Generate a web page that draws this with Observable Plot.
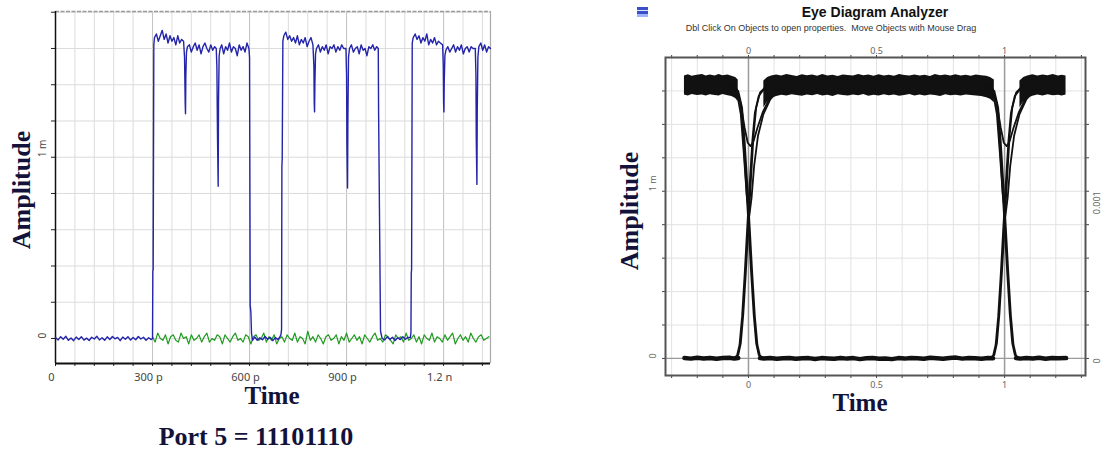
<!DOCTYPE html>
<html><head><meta charset="utf-8">
<script src="https://cdn.jsdelivr.net/npm/d3@7"></script>
<script src="https://cdn.jsdelivr.net/npm/@observablehq/plot@0.6"></script>
<style>
body{margin:0;background:#fff;width:1105px;height:452px;overflow:hidden;position:relative;font-family:Arial,"Liberation Sans",sans-serif;}
.abs{position:absolute;}
.serif{font-family:"Liberation Serif","Times New Roman",serif;font-weight:bold;color:#12123a;line-height:1;white-space:nowrap;text-align:center;}
.rot{transform:rotate(-90deg);}
</style></head><body>
<div id="left" class="abs" style="left:0;top:0"></div>
<div id="right" class="abs" style="left:600px;top:0"></div>
<div class="abs serif rot" style="left:-78px;top:177px;width:200px;font-size:26px;">Amplitude</div>
<div class="abs serif" style="left:172px;top:383px;width:200px;font-size:25px;">Time</div>
<div class="abs serif" style="left:106px;top:424px;width:300px;font-size:26px;">Port 5 = 11101110</div>
<div class="abs serif rot" style="left:530px;top:198px;width:200px;font-size:26px;">Amplitude</div>
<div class="abs serif" style="left:760px;top:390px;width:200px;font-size:25px;">Time</div>
<div class="abs" style="left:637px;top:7px;width:11px;height:10px;background:linear-gradient(#3a4fc8 0 30%,#dfe6ff 30% 45%,#3a4fc8 45% 70%,#9fb4ff 70%);"></div>
<div class="abs" style="left:725px;top:5px;width:300px;text-align:center;font-weight:bold;font-size:14px;color:#111;line-height:1;">Eye Diagram Analyzer</div>
<div class="abs" style="left:631px;top:24px;width:400px;text-align:center;font-size:9px;color:#333;line-height:1;white-space:pre;">Dbl Click On Objects to open properties.  Move Objects with Mouse Drag</div>
<script>
// ---------- Left chart: time trace ----------
const leftXDomain = [0, 1345];
const leftYDomain = [-0.138, 1.804];
const leftXTicks = [0, 300, 600, 900, 1200];
const leftXLabels = ["0", "300 p", "600 p", "900 p", "1.2 n"];
const leftYTicks = [0, 1];
const leftYLabels = ["0", "1 m"];
const leftGridX = [0,60,120,180,240,300,360,420,480,540,600,660,720,780,840,900,960,1020,1080,1140,1200,1260,1320];
const leftGridY = [0,0.2,0.4,0.6,0.8,1.0,1.2,1.4,1.6,1.8];

// blue trace (time in ps, amplitude in mV)
const blueTrace = [
[0,0.005],[8,-0.008],[16,0.01],[24,-0.004],[32,0.012],[40,-0.01],[48,0.003],[56,-0.012],[64,0.008],[72,-0.005],
[80,0.01],[88,-0.009],[96,0.002],[104,-0.011],[112,0.007],[120,-0.003],[128,0.012],[136,-0.008],[144,0.004],[152,-0.01],
[160,0.009],[168,-0.006],[176,0.011],[184,-0.002],[192,0.006],[200,-0.012],[208,0.008],[216,-0.004],[224,0.01],[232,-0.009],
[240,0.005],[248,-0.007],[256,0.011],[264,-0.003],[272,0.007],[280,-0.01],[288,0.004],[296,-0.006],
[300,0.0],[301,0.37],[302,0.38],[304,1.62],[306,1.66],
[312,1.68],[318,1.64],[324,1.67],[330,1.70],[336,1.65],[342,1.68],[348,1.63],[354,1.67],[360,1.64],[366,1.66],
[372,1.62],[378,1.67],[384,1.63],[390,1.65],[396,1.64],
[399,1.55],[401,1.30],[402,1.24],[403,1.45],[405,1.58],[408,1.61],
[414,1.62],[420,1.58],[426,1.61],[432,1.63],[438,1.59],[444,1.62],[450,1.57],[456,1.61],[462,1.63],[468,1.60],
[474,1.58],[480,1.62],[486,1.59],[492,1.61],[497,1.60],
[499,1.50],[501,1.10],[503,0.84],[504,1.30],[506,1.56],[509,1.60],
[514,1.62],[520,1.57],[526,1.61],[532,1.59],[538,1.63],[544,1.58],[550,1.61],[556,1.60],[562,1.56],[568,1.62],
[574,1.59],[580,1.61],[586,1.58],[592,1.63],[598,1.60],
[600,1.55],[601,0.9],[602,0.18],[604,0.15],[606,0.03],[609,-0.01],
[616,0.008],[624,-0.01],[632,0.004],[640,-0.007],[648,0.011],[656,-0.004],[664,0.006],[672,-0.012],[680,0.005],[688,-0.006],
[694,0.01],[697,0.02],
[699,0.05],[700,0.95],[701,0.99],[703,1.64],[706,1.67],
[712,1.69],[718,1.65],[724,1.67],[730,1.64],[736,1.66],[742,1.63],[748,1.67],[754,1.62],[760,1.65],[766,1.63],
[772,1.66],[778,1.61],[784,1.64],[790,1.66],[796,1.62],
[799,1.50],[800,1.30],[801,1.25],[802,1.40],[804,1.57],[807,1.60],
[813,1.62],[819,1.58],[825,1.61],[831,1.59],[837,1.62],[843,1.57],[849,1.61],[855,1.60],[861,1.62],[867,1.58],
[873,1.61],[879,1.59],[885,1.62],[891,1.60],[898,1.60],
[900,1.45],[901,1.08],[903,0.83],[904,1.20],[906,1.55],[909,1.60],
[915,1.62],[921,1.58],[927,1.60],[933,1.61],[939,1.57],[945,1.62],[951,1.59],[957,1.60],[963,1.56],[969,1.61],
[975,1.60],[981,1.62],[987,1.59],[993,1.61],[998,1.60],
[999,1.25],[1005,0.04],[1010,0.0],
[1018,-0.008],[1026,0.01],[1034,-0.005],[1042,0.007],[1050,-0.011],[1058,0.004],[1066,-0.006],[1074,0.009],[1082,-0.004],[1090,0.006],
[1097,0.005],
[1099,0.03],[1100,0.36],[1101,0.38],[1103,1.63],[1106,1.66],
[1112,1.68],[1118,1.65],[1124,1.67],[1130,1.63],[1136,1.66],[1142,1.64],[1148,1.68],[1154,1.62],[1160,1.65],[1166,1.63],
[1172,1.66],[1178,1.62],[1184,1.64],[1190,1.63],[1197,1.62],
[1199,1.50],[1200,1.30],[1201,1.25],[1202,1.42],[1204,1.56],[1207,1.59],
[1213,1.61],[1219,1.58],[1225,1.60],[1231,1.62],[1237,1.58],[1243,1.61],[1249,1.59],[1255,1.62],[1261,1.57],[1267,1.60],
[1273,1.61],[1279,1.58],[1285,1.61],[1291,1.60],[1298,1.60],
[1300,1.45],[1301,1.10],[1303,0.85],[1304,1.25],[1306,1.55],[1309,1.61],
[1315,1.63],[1321,1.59],[1327,1.62],[1333,1.58],[1339,1.61],[1345,1.60]
];

// green trace: samples every 8 ps starting at 300 ps
const greenStart = 300, greenStep = 8;
const greenValues = [
0.01,-0.02,0.03,0.00,-0.01,0.02,-0.03,0.01,0.02,-0.01,
-0.02,0.03,0.00,0.01,-0.03,0.02,-0.01,0.00,0.02,-0.02,
0.01,0.03,-0.02,0.00,-0.01,0.02,0.01,-0.03,0.02,0.00,
-0.02,0.01,0.03,-0.01,0.00,-0.02,0.02,0.01,-0.03,0.01,
0.02,-0.01,0.00,0.03,-0.02,0.01,-0.01,0.02,-0.03,0.00,
0.01,-0.02,0.02,0.00,-0.01,0.03,-0.02,0.01,0.00,-0.03,
0.04,-0.01,0.01,-0.02,0.02,0.00,-0.03,0.01,0.02,-0.01,
0.00,0.02,-0.03,0.01,-0.01,0.03,-0.02,0.00,0.02,-0.01,
0.01,-0.03,0.02,0.00,-0.02,0.01,0.03,-0.01,0.00,-0.02,
0.02,0.01,-0.01,-0.03,0.02,0.00,0.01,-0.02,0.03,-0.01,
0.00,0.02,-0.02,0.01,-0.03,0.02,0.00,-0.01,0.03,-0.02,
0.01,0.00,-0.02,0.02,-0.01,0.01,0.03,-0.03,0.00,0.02,
-0.01,0.01,-0.02,0.03,0.00,-0.02,0.01,0.02,-0.01,0.00,
0.01
];
const greenTrace = greenValues.map((v, i) => [greenStart + i * greenStep, v]);

// ---------- Right chart: eye diagram ----------
const eyeXDomain = [-0.324, 1.316];
const eyeYDomain = [-0.102, 1.80];
const eyeXTicks = [0, 0.5, 1];
const eyeXLabels = ["0", "0.5", "1"];
const eyeYTicksLeft = [0, 1];
const eyeYLabelsLeft = ["0", "1 m"];
const eyeYLabelsRight = ["0", "0.001"];
const eyeGridX = [-0.3,-0.2,-0.1,0,0.1,0.2,0.3,0.4,0.5,0.6,0.7,0.8,0.9,1.0,1.1,1.2,1.3];
const eyeGridY = [0,0.2,0.4,0.6,0.8,1.0,1.2,1.4,1.6];
const eyeCrossings = [0, 1];

// high (logic 1) band segments: x, top, bottom
const bandLeftX = [-0.25,-0.235,-0.22,-0.2,-0.18,-0.165,-0.15,-0.13,-0.115,-0.1,-0.08,-0.065,-0.05,-0.04];
const bandLeftTop = [1.690,1.697,1.688,1.694,1.699,1.689,1.695,1.690,1.698,1.691,1.695,1.688,1.680,1.665];
const bandLeftBot = [1.575,1.570,1.578,1.572,1.576,1.569,1.577,1.573,1.570,1.578,1.571,1.566,1.555,1.535];
const bandMidX = [0.06,0.075,0.09,0.11,0.13,0.15,0.17,0.19,0.21,0.23,0.25,0.27,0.29,0.31,0.33,0.35,0.37,0.39,0.41,0.43,0.45,0.47,0.49,0.51,0.53,0.55,0.57,0.59,0.61,0.63,0.65,0.67,0.69,0.71,0.73,0.75,0.77,0.79,0.81,0.83,0.85,0.87,0.89,0.91,0.93,0.945,0.96];
const bandMidTop = [1.660,1.680,1.690,1.696,1.689,1.698,1.692,1.687,1.697,1.691,1.695,1.688,1.699,1.690,1.694,1.687,1.696,1.692,1.689,1.698,1.691,1.695,1.688,1.697,1.690,1.694,1.688,1.699,1.692,1.689,1.696,1.690,1.694,1.687,1.698,1.691,1.695,1.689,1.697,1.690,1.694,1.688,1.696,1.691,1.688,1.680,1.665];
const bandMidBot = [1.500,1.535,1.555,1.566,1.574,1.569,1.577,1.572,1.568,1.576,1.571,1.578,1.570,1.574,1.567,1.577,1.572,1.569,1.576,1.571,1.578,1.568,1.574,1.570,1.577,1.571,1.575,1.568,1.573,1.578,1.570,1.575,1.569,1.576,1.572,1.567,1.577,1.571,1.574,1.569,1.576,1.572,1.570,1.566,1.560,1.550,1.530];
const bandRightX = [1.06,1.075,1.09,1.11,1.13,1.15,1.17,1.19,1.21,1.225,1.24];
const bandRightTop = [1.660,1.680,1.690,1.697,1.689,1.695,1.691,1.698,1.690,1.694,1.689];
const bandRightBot = [1.500,1.535,1.555,1.568,1.575,1.570,1.577,1.571,1.574,1.569,1.575];

// low (logic 0) trace segments
const lowLeftX = [-0.25,-0.225,-0.2,-0.175,-0.15,-0.125,-0.1,-0.075,-0.055,-0.04];
const lowLeftV = [0.003,-0.001,0.004,0.0,0.003,-0.002,0.002,0.004,-0.001,0.002];
const lowMidX = [0.045,0.06,0.085,0.11,0.135,0.16,0.185,0.21,0.235,0.26,0.285,0.31,0.335,0.36,0.385,0.41,0.435,0.46,0.485,0.51,0.535,0.56,0.585,0.61,0.635,0.66,0.685,0.71,0.735,0.76,0.785,0.81,0.835,0.86,0.885,0.91,0.935,0.955];
const lowMidV = [0.002,0.0,0.003,-0.002,0.001,0.003,-0.002,0.001,0.002,-0.003,0.002,0.0,-0.002,0.003,-0.001,0.002,-0.004,0.001,0.002,-0.002,0.0,-0.004,0.002,-0.001,0.003,0.001,-0.002,0.004,0.001,-0.002,0.003,0.005,-0.001,0.003,0.001,-0.002,0.003,0.001];
const lowRightX = [1.045,1.06,1.085,1.11,1.135,1.16,1.185,1.21,1.24];
const lowRightV = [0.002,-0.001,0.003,0.0,0.004,-0.002,0.003,0.001,0.002];

// transition traces around a crossing (x relative to crossing, amplitude mV)
const edgeFallA = [[-0.07,1.63],[-0.045,1.61],[-0.03,1.52],[-0.02,1.32],[-0.01,1.06],[0,0.80],[0.01,0.52],[0.02,0.27],[0.03,0.09],[0.04,0.02],[0.06,0.0]];
const edgeFallB = [[-0.07,1.63],[-0.04,1.60],[-0.025,1.50],[-0.015,1.30],[-0.005,1.05],[0.005,0.78],[0.015,0.50],[0.025,0.25],[0.035,0.08],[0.045,0.015],[0.065,0.0]];
const edgeRiseA = [[-0.06,0.0],[-0.04,0.02],[-0.03,0.09],[-0.02,0.27],[-0.01,0.52],[0,0.80],[0.01,1.08],[0.02,1.34],[0.03,1.50],[0.045,1.59],[0.07,1.63]];
const edgeRiseB = [[-0.065,0.0],[-0.045,0.015],[-0.035,0.08],[-0.025,0.25],[-0.015,0.50],[-0.005,0.78],[0.005,1.05],[0.015,1.30],[0.025,1.47],[0.04,1.57],[0.065,1.62]];
const edgeDipShallow = [[-0.07,1.63],[-0.045,1.60],[-0.03,1.52],[-0.015,1.38],[-0.003,1.29],[0.008,1.27],[0.02,1.30],[0.035,1.38],[0.055,1.47],[0.08,1.55],[0.11,1.60],[0.14,1.62]];
const edgeDipDeep = [[-0.07,1.63],[-0.045,1.59],[-0.03,1.46],[-0.018,1.22],[-0.007,0.98],[0.003,0.85],[0.012,0.96],[0.022,1.15],[0.037,1.33],[0.058,1.46],[0.085,1.55],[0.12,1.61]];

// ---------- build tables ----------
const blueData = blueTrace.map(([t, v]) => ({t, v}));
const greenData = greenTrace.map(([t, v]) => ({t, v}));

const bandData = [];
[[bandLeftX, bandLeftTop, bandLeftBot, "L"], [bandMidX, bandMidTop, bandMidBot, "M"], [bandRightX, bandRightTop, bandRightBot, "R"]]
  .forEach(([xs, tops, bots, seg]) => xs.forEach((x, i) => bandData.push({x, top: tops[i], bot: bots[i], seg})));
const lowData = [];
[[lowLeftX, lowLeftV, "L"], [lowMidX, lowMidV, "M"], [lowRightX, lowRightV, "R"]]
  .forEach(([xs, vs, seg]) => xs.forEach((x, i) => lowData.push({x, v: vs[i], seg})));
const edgeData = [];
const edgeSets = {edgeFallA, edgeFallB, edgeRiseA, edgeRiseB, edgeDipShallow, edgeDipDeep};
eyeCrossings.forEach(c => Object.entries(edgeSets).forEach(([name, pts]) =>
  pts.forEach(([dx, v]) => edgeData.push({x: c + dx, v, id: name + c}))));

// ---------- left plot ----------
const left = Plot.plot({
  width: 500, height: 390,
  marginLeft: 55, marginRight: 10, marginTop: 11, marginBottom: 27,
  x: {domain: leftXDomain, axis: null},
  y: {domain: leftYDomain, axis: null},
  style: {background: "white", overflow: "visible"},
  marks: [
    Plot.gridX(leftGridX, {stroke: "#dcdcdc", strokeOpacity: 1}),
    Plot.gridX(leftXTicks, {stroke: "#c4c4c4", strokeOpacity: 1}),
    Plot.gridY(leftGridY, {stroke: "#dcdcdc", strokeOpacity: 1}),
    Plot.ruleY([leftYDomain[1]], {stroke: "#9a9a9a", strokeDasharray: "4,1.5", strokeWidth: 1.5}),
    Plot.ruleX([leftXDomain[1]], {stroke: "#aaaaaa", strokeWidth: 1.2}),
    Plot.axisY({ticks: leftGridY, tickFormat: () => "", tickSize: 4, stroke: "#222", label: null}),
    Plot.axisX({ticks: leftGridX, tickFormat: () => "", tickSize: 3, stroke: "#222", label: null}),
    Plot.ruleX([leftXDomain[0]], {stroke: "#111", strokeWidth: 1.5}),
    Plot.ruleY([leftYDomain[0]], {stroke: "#111", strokeWidth: 2}),
    Plot.text(leftXTicks, {x: d => d, text: (d, i) => leftXLabels[i], frameAnchor: "bottom", dy: 17, dx: -4, fontSize: 11, fill: "#444"}),
    Plot.text(leftYTicks, {y: d => d, text: (d, i) => leftYLabels[i], frameAnchor: "left", dx: -13, rotate: -90, fontSize: 10, fill: "#444"}),
    Plot.line(greenData, {x: "t", y: "v", stroke: "#1f9a1f", strokeWidth: 1.2}),
    Plot.line(blueData, {x: "t", y: "v", stroke: "#2424aa", strokeWidth: 1.4})
  ]
});
document.getElementById("left").appendChild(left);

// ---------- right plot ----------
const right = Plot.plot({
  width: 505, height: 400,
  marginLeft: 65, marginRight: 20, marginTop: 57, marginBottom: 25,
  x: {domain: eyeXDomain, axis: null},
  y: {domain: eyeYDomain, axis: null},
  style: {background: "white", overflow: "visible"},
  marks: [
    Plot.gridX(eyeGridX, {stroke: "#e2e2e2", strokeOpacity: 1}),
    Plot.gridY(eyeGridY, {stroke: "#e2e2e2", strokeOpacity: 1}),
    Plot.ruleX(eyeCrossings, {stroke: "#9a9a9a", strokeWidth: 1.5}),
    Plot.ruleY([0], {stroke: "#9a9a9a", strokeWidth: 1.2}),
    Plot.axisX({anchor: "bottom", ticks: eyeGridX, tickFormat: () => "", tickSize: 3, stroke: "#444", label: null}),
    Plot.axisX({anchor: "top", ticks: eyeGridX, tickFormat: () => "", tickSize: 3, stroke: "#444", label: null}),
    Plot.axisY({anchor: "left", ticks: eyeGridY, tickFormat: () => "", tickSize: 3, stroke: "#444", label: null}),
    Plot.axisY({anchor: "right", ticks: eyeGridY, tickFormat: () => "", tickSize: 3, stroke: "#444", label: null}),
    Plot.frame({stroke: "#555", strokeWidth: 2}),
    Plot.text(eyeXTicks, {x: d => d, text: (d, i) => eyeXLabels[i], frameAnchor: "top", dy: -10, fontSize: 9, fill: "#666"}),
    Plot.text(eyeXTicks, {x: d => d, text: (d, i) => eyeXLabels[i], frameAnchor: "bottom", dy: 12, fontSize: 9, fill: "#666"}),
    Plot.text(eyeYTicksLeft, {y: d => d, text: (d, i) => eyeYLabelsLeft[i], frameAnchor: "left", dx: -12, rotate: -90, fontSize: 9, fill: "#666"}),
    Plot.text(eyeYTicksLeft, {y: d => d, text: (d, i) => eyeYLabelsRight[i], frameAnchor: "right", dx: 12, rotate: -90, fontSize: 9, fill: "#666"}),
    Plot.areaY(bandData, {x: "x", y1: "bot", y2: "top", z: "seg", fill: "#111"}),
    Plot.line(lowData, {x: "x", y: "v", z: "seg", stroke: "#111", strokeWidth: 4.5}),
    Plot.line(edgeData, {x: "x", y: "v", z: "id", stroke: "#111", strokeWidth: 1.8})
  ]
});
document.getElementById("right").appendChild(right);
</script>
</body></html>
